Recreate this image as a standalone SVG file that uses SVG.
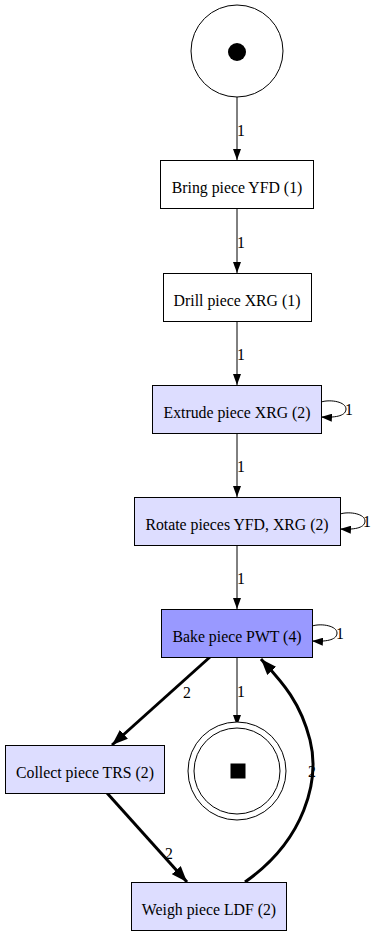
<svg xmlns="http://www.w3.org/2000/svg" width="378" height="936" viewBox="0 0 378 936">
<style>
  .box { stroke: #000; stroke-width: 1; }
  .plain { fill: #ffffff; }
  .light { fill: #ddddff; }
  .dark { fill: #9999ff; }
  .lbl { font-family: "Liberation Serif", "Times New Roman", serif; font-size: 15.8px; fill: #000; text-anchor: middle; }
  .elbl { font-family: "Liberation Serif", "Times New Roman", serif; font-size: 15.8px; fill: #000; }
  .e { fill: none; stroke: #000; stroke-width: 1; }
  .eb { fill: none; stroke: #000; stroke-width: 3; }
</style>
<defs>
  <marker id="arr" markerUnits="userSpaceOnUse" viewBox="0 0 11 8" markerWidth="11" markerHeight="8" refX="11" refY="4" orient="auto">
    <path d="M0,0 L11,4 L0,8 Z" fill="#000"/>
  </marker>
  <marker id="arrB" markerUnits="userSpaceOnUse" viewBox="0 0 16 12" markerWidth="16" markerHeight="12" refX="16" refY="6" orient="auto">
    <path d="M0,0 L16,6 L0,12 Z" fill="#000"/>
  </marker>
</defs>
<rect width="378" height="936" fill="#ffffff"/>

<g id="connectors">
  <path class="e" d="M237,97 L237,160" marker-end="url(#arr)"/>
  <text class="elbl" x="237" y="136">1</text>
  <path class="e" d="M237,209 L237,273" marker-end="url(#arr)"/>
  <text class="elbl" x="237" y="248">1</text>
  <path class="e" d="M237,321 L237,385" marker-end="url(#arr)"/>
  <text class="elbl" x="237" y="360">1</text>
  <path class="e" d="M237,433 L237,497" marker-end="url(#arr)"/>
  <text class="elbl" x="237" y="472">1</text>
  <path class="e" d="M237,545 L237,609" marker-end="url(#arr)"/>
  <text class="elbl" x="237" y="584">1</text>

  <!-- self loops -->
  <path class="e" d="M321,402 C331,399 346,402 346,409 C346,415 338,418 321,417" marker-end="url(#arr)"/>
  <text class="elbl" x="345" y="415">1</text>
  <path class="e" d="M340,514 C350,511 365,514 365,521 C365,527 357,530 340,529" marker-end="url(#arr)"/>
  <text class="elbl" x="363" y="527">1</text>
  <path class="e" d="M312,626 C322,623 337,626 337,633 C337,639 329,642 312,641" marker-end="url(#arr)"/>
  <text class="elbl" x="336" y="639">1</text>

  <!-- bake to end place -->
  <path class="e" d="M237,657 L237,726" marker-end="url(#arr)"/>
  <text class="elbl" x="237" y="697">1</text>

  <!-- weighted arcs -->
  <path class="eb" d="M210,657 L112,745" marker-end="url(#arrB)"/>
  <text class="elbl" x="183" y="698">2</text>
  <path class="eb" d="M107,793 L187,882" marker-end="url(#arrB)"/>
  <text class="elbl" x="165" y="859">2</text>
  <path class="eb" d="M245,882 C305,840 320,780 310,740 C300,700 280,680 261,659" marker-end="url(#arrB)"/>
  <text class="elbl" x="308" y="777">2</text>
</g>

<g id="start">
  <circle cx="237" cy="51" r="46" fill="#ffffff" stroke="#000"/>
  <circle cx="237" cy="52" r="9" fill="#000"/>
</g>
<g id="bring">
  <rect class="box plain" x="160.5" y="160.5" width="153" height="48"/>
  <text class="lbl" x="237" y="193">Bring piece YFD (1)</text>
</g>
<g id="drill">
  <rect class="box plain" x="163.5" y="273.5" width="148" height="48"/>
  <text class="lbl" x="237" y="306">Drill piece XRG (1)</text>
</g>
<g id="extrude">
  <rect class="box light" x="152.5" y="385.5" width="169" height="48"/>
  <text class="lbl" x="237" y="418">Extrude piece XRG (2)</text>
</g>
<g id="rotate">
  <rect class="box light" x="134.5" y="497.5" width="206" height="48"/>
  <text class="lbl" x="237" y="530">Rotate pieces YFD, XRG (2)</text>
</g>
<g id="bake">
  <rect class="box dark" x="161.5" y="609.5" width="151" height="48"/>
  <text class="lbl" x="237" y="642">Bake piece PWT (4)</text>
</g>
<g id="collect">
  <rect class="box light" x="5.5" y="745.5" width="159" height="48"/>
  <text class="lbl" x="85" y="778">Collect piece TRS (2)</text>
</g>
<g id="end">
  <circle cx="237" cy="771" r="49" fill="#ffffff" stroke="#000"/>
  <circle cx="237" cy="771" r="43" fill="none" stroke="#000"/>
  <rect x="230.5" y="763.5" width="15" height="15" fill="#000"/>
</g>
<g id="weigh">
  <rect class="box light" x="131.5" y="882.5" width="155" height="48"/>
  <text class="lbl" x="209" y="915">Weigh piece LDF (2)</text>
</g>
</svg>
